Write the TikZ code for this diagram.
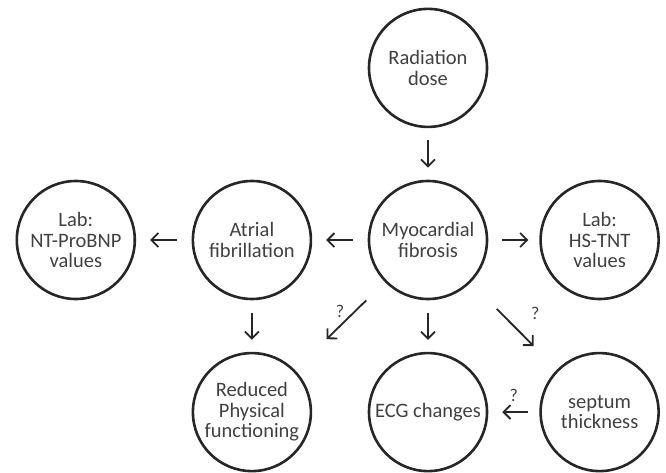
\documentclass[tikz,border=0pt]{standalone}
\usepackage{fontspec}
\setmainfont{Carlito}
\usetikzlibrary{positioning,arrows.meta}
\definecolor{linegray}{HTML}{262626}
\definecolor{textgray}{HTML}{404040}
\tikzstyle{factor} = [circle, 
minimum size=118pt, 
inner sep=0pt,
line width=2.6pt, 
draw=linegray, 
text=textgray,
align=center, 
font=\fontsize{20.5}{20.5}\selectfont]
\tikzstyle{query} = [text=textgray, font=\fontsize{18}{20}\selectfont]
\tikzstyle{arrow} = [line width=1.8pt, draw=linegray, -{Straight Barb[length=7pt,width=14pt]}]

\begin{document}
\begin{tikzpicture}[x=1pt, y=1pt]
\useasboundingbox (0,0) rectangle (666,-473);

% Central factor
\node (Fibrosis) [factor] at (428,-240) {Myocardial\\fibrosis};

% Middle row
\node (Radiation) [factor, above=51.5pt of Fibrosis] {Radiation\\dose};
\node (Atrial) [factor, left=55.5pt of Fibrosis] {Atrial\\fibrillation};
\node (NTProBNP) [factor, left=55.5pt of Atrial] {Lab:\\NT-ProBNP\\values};
\node (HSTNT) [factor, right=51pt of Fibrosis] {Lab:\\HS-TNT\\values};

% Bottom row
\node (Physical) [factor, below=51.5pt of Atrial] {Reduced\\Physical\\functioning};
\node (ECG) [factor, below=51.5pt of Fibrosis] {ECG changes};
\node (Septum) [factor, below=51.5pt of HSTNT] {septum\\thickness};

% Arrows from fibrosis
\draw [arrow, shorten <=12pt, shorten >=12pt] (Radiation) -- (Fibrosis);
\draw [arrow, shorten <=15pt, shorten >=14pt] (Fibrosis) -- (Atrial);
\draw [arrow, shorten <=15pt, shorten >=14pt] (Atrial) -- (NTProBNP);
\draw [arrow, shorten <=14pt, shorten >=11pt] (Fibrosis) -- (HSTNT);
\draw [arrow, shorten <=13pt, shorten >=12pt] (Atrial) -- (Physical);
\draw [arrow, shorten <=13pt, shorten >=12pt] (Fibrosis) -- (ECG);

% Uncertain links
\draw [arrow, shorten <=26pt, shorten >=44pt] (Fibrosis) -- node[query, above=4pt] {?} (Physical);
\draw [arrow, shorten <=37pt, shorten >=33pt] (Fibrosis) -- node[query, above right=2pt and 13pt] {?} (Septum);
\draw [arrow, shorten <=11pt, shorten >=14pt] (Septum) -- node[query, above=6pt] {?} (ECG);

\end{tikzpicture}
\end{document}
